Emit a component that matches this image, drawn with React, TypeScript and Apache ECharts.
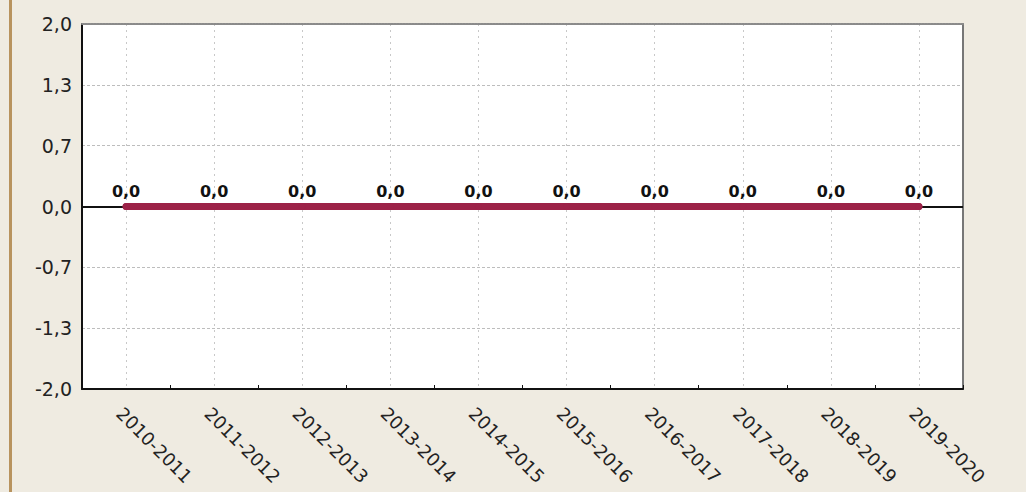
import React, { useEffect, useRef } from "react";
import * as echarts from "echarts";

const categories = [
  "2010-2011", "2011-2012", "2012-2013", "2013-2014", "2014-2015",
  "2015-2016", "2016-2017", "2017-2018", "2018-2019", "2019-2020",
];
const values = [0, 0, 0, 0, 0, 0, 0, 0, 0, 0];
const yMin = -2;
const yMax = 2;
const yInterval = 2 / 3;

const fmt = (v: number) => v.toFixed(1).replace(".", ",").replace(/^-0,0$/, "0,0");

export default function App() {
  const ref = useRef<HTMLDivElement>(null);
  useEffect(() => {
    document.body.style.margin = "0";
    const chart = echarts.init(ref.current!, null, { renderer: "svg" });
    chart.setOption({
      animation: false,
      backgroundColor: "transparent",
      grid: {
        left: 72,
        right: 63,
        top: 24,
        bottom: 103,
        show: true,
        backgroundColor: "#ffffff",
        borderWidth: 0,
      },
      xAxis: [
        {
          type: "category",
          data: categories,
          boundaryGap: true,
          axisLine: { onZero: false, lineStyle: { color: "#111", width: 2 } },
          axisTick: { show: true, inside: true, length: 4, lineStyle: { color: "#111" } },
          axisLabel: {
            rotate: -45,
            fontFamily: "DejaVu Sans",
            fontSize: 18,
            color: "#222",
            margin: 15,
            verticalAlign: "top",
            interval: 0,
          },
          splitLine: {
            show: true,
            alignWithLabel: true,
            lineStyle: { color: "#c8c8c8", type: [2, 4], width: 1 },
          },
        },
        {
          type: "category",
          data: categories,
          position: "top",
          axisLine: { show: true, onZero: false, lineStyle: { color: "#8a8a8a", width: 2, type: [2, 1] } },
          axisTick: { show: false },
          axisLabel: { show: false },
          splitLine: { show: false },
        },
      ],
      yAxis: [
        {
          type: "value",
          min: yMin,
          max: yMax,
          interval: yInterval,
          axisLine: { show: true, lineStyle: { color: "#111", width: 2 } },
          axisTick: { show: false },
          axisLabel: {
            fontFamily: "DejaVu Sans",
            fontSize: 19,
            color: "#222",
            margin: 10,
            formatter: (v: number) => fmt(v),
          },
          splitLine: {
            show: true,
            lineStyle: { color: "#bdbdbd", type: [3, 2], width: 1 },
          },
        },
        {
          type: "value",
          min: yMin,
          max: yMax,
          interval: yInterval,
          position: "right",
          axisLine: { show: true, onZero: false, lineStyle: { color: "#777", width: 2 } },
          axisTick: { show: false },
          axisLabel: { show: false },
          splitLine: { show: false },
        },
      ],
      series: [
        {
          type: "line",
          data: values,
          xAxisIndex: 0,
          yAxisIndex: 0,
          symbol: "circle",
          symbolSize: 7,
          showSymbol: true,
          itemStyle: { color: "#9c2248" },
          lineStyle: { color: "#9c2248", width: 7, cap: "round" },
          label: {
            show: true,
            position: "top",
            distance: 4,
            fontFamily: "DejaVu Sans",
            fontWeight: "bold",
            fontSize: 16,
            color: "#111",
            formatter: (p: any) => fmt(p.value),
          },
          markLine: {
            silent: true,
            symbol: "none",
            label: { show: false },
            lineStyle: { color: "#111", width: 2, type: "solid" },
            data: [{ yAxis: 0 }],
            z: 1,
          },
          z: 3,
        },
      ],
    });
    return () => chart.dispose();
  }, []);
  return (
    <div style={{ width: 1026, height: 492, background: "#efebe1", position: "relative" }}>
      <div style={{ position: "absolute", left: 9, top: 0, width: 3, height: 492, background: "#b8935e" }} />
      <div ref={ref} style={{ position: "absolute", left: 10, top: 0, width: 1016, height: 492 }} />
    </div>
  );
}
